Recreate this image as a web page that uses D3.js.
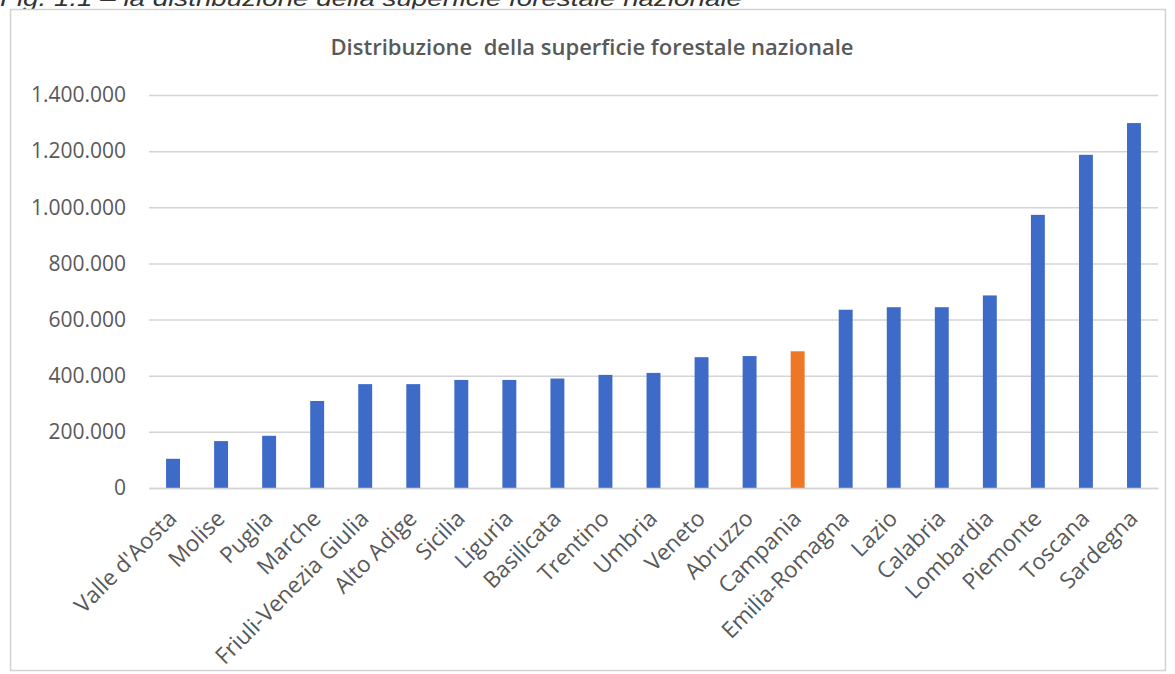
<!DOCTYPE html>
<html>
<head>
<meta charset="utf-8">
<script src="https://cdn.jsdelivr.net/npm/d3@7"></script>
<style>
  html, body { margin: 0; padding: 0; background: #ffffff; }
  svg { display: block; }
</style>
</head>
<body>
<svg id="chart" width="1175" height="674"></svg>
<script>
// Superficie forestale per regione (ettari), ordinata in modo crescente
const regions = [
  "Valle d'Aosta", "Molise", "Puglia", "Marche", "Friuli-Venezia Giulia",
  "Alto Adige", "Sicilia", "Liguria", "Basilicata", "Trentino", "Umbria",
  "Veneto", "Abruzzo", "Campania", "Emilia-Romagna", "Lazio", "Calabria",
  "Lombardia", "Piemonte", "Toscana", "Sardegna"
];
const forestArea = [
  104000, 167000, 186000, 310000, 370000,
  370000, 385000, 385000, 390000, 403000, 410000,
  466000, 470000, 487000, 635000, 644000, 644000,
  686000, 973000, 1187000, 1300000
];
const highlighted = ["Campania"];
const yTicks = [0, 200000, 400000, 600000, 800000, 1000000, 1200000, 1400000];

const caption = "Fig. 1.1 \u2013 la distribuzione della superficie forestale nazionale";
const title = "Distribuzione  della superficie forestale nazionale";

const W = 1175, H = 674;
const plot = { left: 149, right: 1158, top: 95, bottom: 488 };
const textColor = "#595959";
const barBlue = "#3f6bc8";
const barOrange = "#ee7726";

const svg = d3.select("#chart");

// Figure caption (partially cut by the top edge)
svg.append("text")
  .attr("x", 0)
  .attr("y", 6)
  .attr("font-family", "Liberation Sans, Arial, sans-serif")
  .attr("font-style", "italic")
  .attr("font-size", 22)
  .attr("textLength", 742)
  .attr("lengthAdjust", "spacingAndGlyphs")
  .attr("fill", "#333")
  .text(caption);

// Chart frame
svg.append("rect")
  .attr("x", 10.5).attr("y", 9.5)
  .attr("width", 1155).attr("height", 661)
  .attr("fill", "#ffffff")
  .attr("stroke", "#d2d2d2")
  .attr("stroke-width", 1.5);

// Title
svg.append("text")
  .attr("x", 592)
  .attr("y", 55)
  .attr("text-anchor", "middle")
  .style("white-space", "pre")
  .attr("font-family", "Open Sans, sans-serif")
  .attr("font-weight", 600)
  .attr("font-size", 22)
  .attr("fill", textColor)
  .text(title);

const x = d3.scaleBand()
  .domain(regions)
  .range([plot.left, plot.right])
  .paddingInner(0.71)
  .paddingOuter(0.355);

const y = d3.scaleLinear()
  .domain([0, 1400000])
  .range([plot.bottom, plot.top]);

const it = d3.formatLocale({ decimal: ",", thousands: ".", grouping: [3], currency: ["", "\u00a0€"] });
const fmt = it.format(",");

// Gridlines and value labels
const yAxis = d3.axisLeft(y)
  .tickValues(yTicks)
  .tickSize(-(plot.right - plot.left))
  .tickPadding(23)
  .tickFormat(fmt);

const gy = svg.append("g")
  .attr("transform", `translate(${plot.left},0)`)
  .call(yAxis);
gy.select(".domain").remove();
gy.selectAll(".tick line")
  .attr("stroke", "#d4d4d4")
  .attr("stroke-width", 1.5);
gy.selectAll(".tick text")
  .attr("font-family", "Open Sans, sans-serif")
  .attr("font-size", 21)
  .attr("fill", textColor);

// Bars
svg.append("g")
  .selectAll("rect")
  .data(regions.map((r, i) => ({ region: r, value: forestArea[i] })))
  .join("rect")
  .attr("x", d => x(d.region))
  .attr("y", d => y(d.value))
  .attr("width", x.bandwidth())
  .attr("height", d => y(0) - y(d.value))
  .attr("fill", d => highlighted.includes(d.region) ? barOrange : barBlue);

// Category axis with rotated labels
const xAxis = d3.axisBottom(x).tickSize(0).tickPadding(0);
const gx = svg.append("g")
  .attr("transform", `translate(0,${plot.bottom})`)
  .call(xAxis);
gx.select(".domain")
  .attr("stroke", "#d4d4d4")
  .attr("stroke-width", 1.5);
gx.selectAll(".tick text")
  .attr("font-family", "Open Sans, sans-serif")
  .attr("font-size", 22.5)
  .attr("fill", textColor)
  .attr("text-anchor", "end")
  .attr("dy", 0)
  .attr("transform", "translate(5,32) rotate(-45)");
</script>
</body>
</html>
